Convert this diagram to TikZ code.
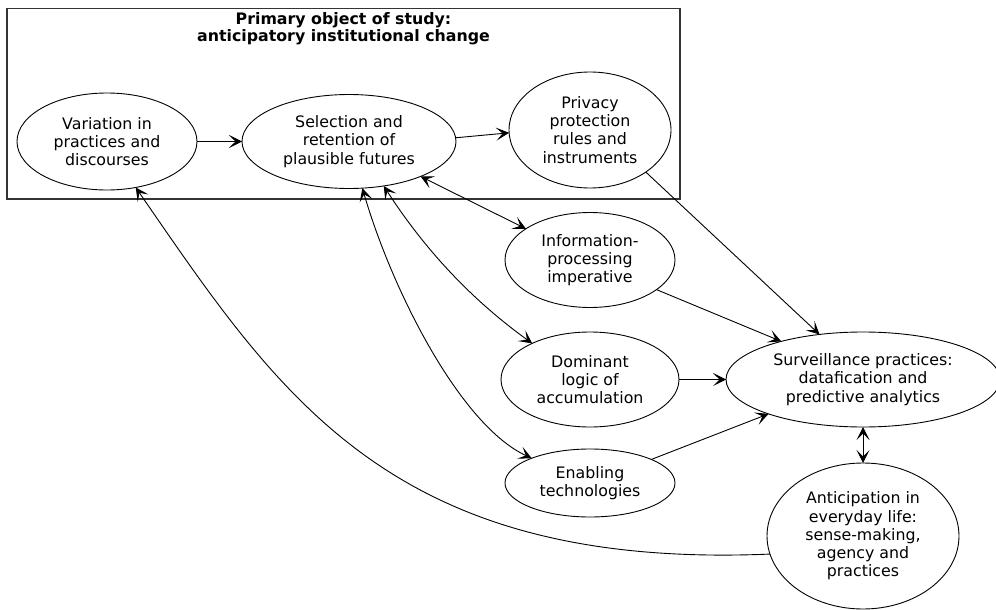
\documentclass[tikz,border=0pt]{standalone}
\usepackage{fontspec}
\setmainfont{DejaVu Sans}
\usetikzlibrary{shapes.geometric,arrows.meta}
\begin{document}
\begin{tikzpicture}[x=1pt,y=-1pt,
  idea/.style={draw, ellipse, inner sep=0pt, outer sep=0pt, align=center,
    line width=0.9pt, font=\fontsize{15.8}{18.2}\selectfont},
  tip/.tip={Stealth[length=13pt,width=13pt,inset=6.5pt]},
  link/.style={line width=0.9pt, -tip},
  mutual/.style={line width=0.9pt, tip-tip},
]
\useasboundingbox (0,0) rectangle (996,610);

% frame around the institutional-change part
\node[draw, line width=1.2pt, black!80, minimum width=673pt, minimum height=190.5pt,
      inner sep=0pt, outer sep=0pt] (frame) at (343.5,103.75) {};
\node[font=\bfseries\fontsize{15.8}{17}\selectfont, align=center] (title) at (343.5,28.5)
  {Primary object of study:\\anticipatory institutional change};

% concepts
\node[idea, minimum width=180pt, minimum height=97pt]  (var)  at (107,141.5) {Variation in\\practices and\\discourses};
\node[idea, minimum width=214pt, minimum height=94pt]  (sel)  at (349,141.5) {Selection and\\retention of\\plausible futures};
\node[idea, minimum width=162pt, minimum height=116pt] (priv) at (590,130)   {Privacy\\protection\\rules and\\instruments};
\node[idea, minimum width=170pt, minimum height=95pt]  (info) at (590,260)   {Information-\\processing\\imperative};
\node[idea, minimum width=178pt, minimum height=95pt]  (dom)  at (590,379.5) {Dominant\\logic of\\accumulation};
\node[idea, minimum width=170pt, minimum height=68pt]  (enab) at (590,483)   {Enabling\\technologies};
\node[idea, minimum width=274pt, minimum height=95pt]  (surv) at (863,379.5) {Surveillance practices:\\datafication and\\predictive analytics};
\node[idea, minimum width=192pt, minimum height=146pt] (anti) at (863,536)   {Anticipation in\\everyday life:\\sense-making,\\agency and\\practices};

% influences
\draw[link] (var.east) -- (sel.west);
\draw[link] (sel.2) -- (priv.182);
\draw[link] (priv.-37) -- (surv.134);
\draw[link] (info.-24) -- (surv.155.6);
\draw[link] (dom.east) -- (surv.west);
\draw[link] (enab.21) -- (surv.200.9);
\draw[mutual] (surv.south) -- (anti.north);
\draw[mutual] (sel.-26) -- (info.154.5);
\draw[mutual] (sel.-52) .. controls (425,250) and (472,300) .. (dom.148);
\draw[mutual] (sel.-74.5) .. controls (392,290) and (460,425) .. (enab.157);
\draw[link] (anti.191) .. controls (390,570) and (279,395) .. (var.-58);
\end{tikzpicture}
\end{document}
